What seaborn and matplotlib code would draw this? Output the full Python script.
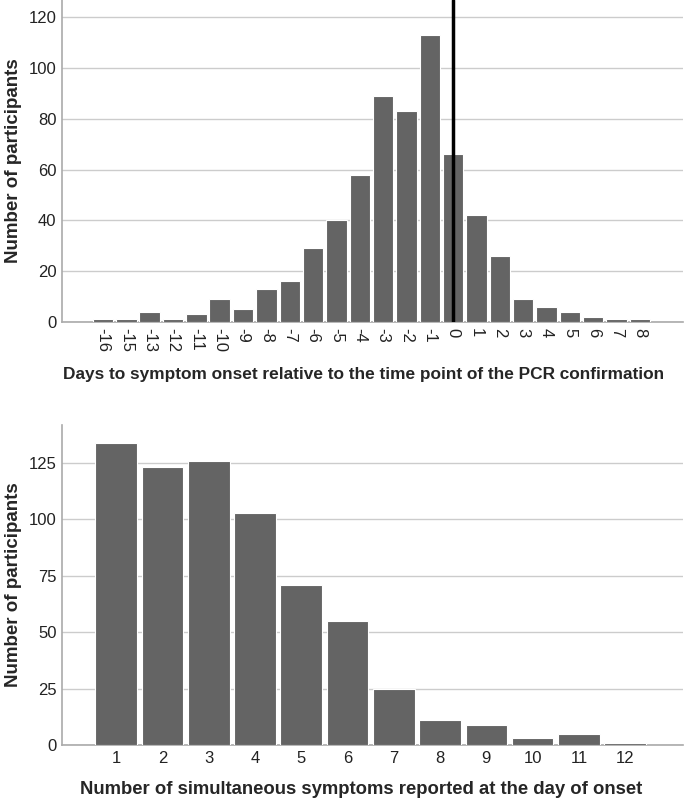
import pandas as pd
import matplotlib.pyplot as plt
import seaborn as sns

# Datos del histograma superior (días respecto a la PCR)
dias = [-16, -15, -13, -12, -11, -10, -9, -8, -7, -6, -5, -4, -3, -2, -1,
        0, 1, 2, 3, 4, 5, 6, 7, 8]
n_dias = [1, 1, 4, 1, 3, 9, 5, 13, 16, 29, 40, 58, 89, 83, 113,
          66, 42, 26, 9, 6, 4, 2, 1, 1]

# Datos del gráfico inferior (número de síntomas simultáneos)
sintomas = [1, 2, 3, 4, 5, 6, 7, 8, 9, 10, 11, 12]
n_sintomas = [134, 123, 126, 103, 71, 55, 25, 11, 9, 3, 5, 1]

df1 = pd.DataFrame({"dia": [str(d) for d in dias], "n": n_dias})
df2 = pd.DataFrame({"sint": [str(s) for s in sintomas], "n": n_sintomas})

sns.set_style("white")
plt.rcParams["font.family"] = ["Liberation Sans", "DejaVu Sans"]

fig = plt.figure(figsize=(6.85, 8.05), dpi=100)
ax1 = fig.add_axes([62 / 685, 1 - 322 / 805, 621 / 685, 322 / 805])
ax2 = fig.add_axes([62 / 685, 1 - 745 / 805, 621 / 685, 320 / 805])

barcolor = "#646464"

sns.barplot(data=df1, x="dia", y="n", order=df1["dia"], color=barcolor,
            width=0.88, edgecolor="white", linewidth=0.8, saturation=1,
            ax=ax1, zorder=3)
sns.barplot(data=df2, x="sint", y="n", order=df2["sint"], color=barcolor,
            width=0.9, edgecolor="white", linewidth=0.8, saturation=1,
            ax=ax2, zorder=3)

# Línea vertical en el día de la PCR
ax1.axvline(dias.index(0), color="black", linewidth=2.5, zorder=4)

ax1.set_ylim(0, 126.8)
ax1.set_yticks([0, 20, 40, 60, 80, 100, 120])
ax1.set_xlim(-1.76, 24.85)
ax2.set_ylim(0, 141.8)
ax2.set_yticks([0, 25, 50, 75, 100, 125])
ax2.set_xlim(-1.17, 12.25)

for ax in (ax1, ax2):
    ax.yaxis.grid(True, color="#cccccc", linewidth=1, zorder=0)
    ax.xaxis.grid(False)
    ax.set_axisbelow(True)
    sns.despine(ax=ax)
    ax.spines["left"].set_color("#aaaaaa")
    ax.spines["bottom"].set_color("#aaaaaa")
    ax.spines["left"].set_linewidth(1.2)
    ax.spines["bottom"].set_linewidth(1.2)
    ax.tick_params(axis="both", length=0, labelsize=12, colors="#222222", pad=4)
    ax.set_ylabel("Number of participants", fontsize=13.5, fontweight="bold", labelpad=5)

ax1.tick_params(axis="x", rotation=270, pad=4)
ax1.set_xlabel("Days to symptom onset relative to the time point of the PCR confirmation",
               fontsize=12.4, fontweight="bold", labelpad=11, x=0.485)
ax2.set_xlabel("Number of simultaneous symptoms reported at the day of onset",
               fontsize=13.3, fontweight="bold", labelpad=11, x=0.482)

fig.savefig("out.png", dpi=100)
